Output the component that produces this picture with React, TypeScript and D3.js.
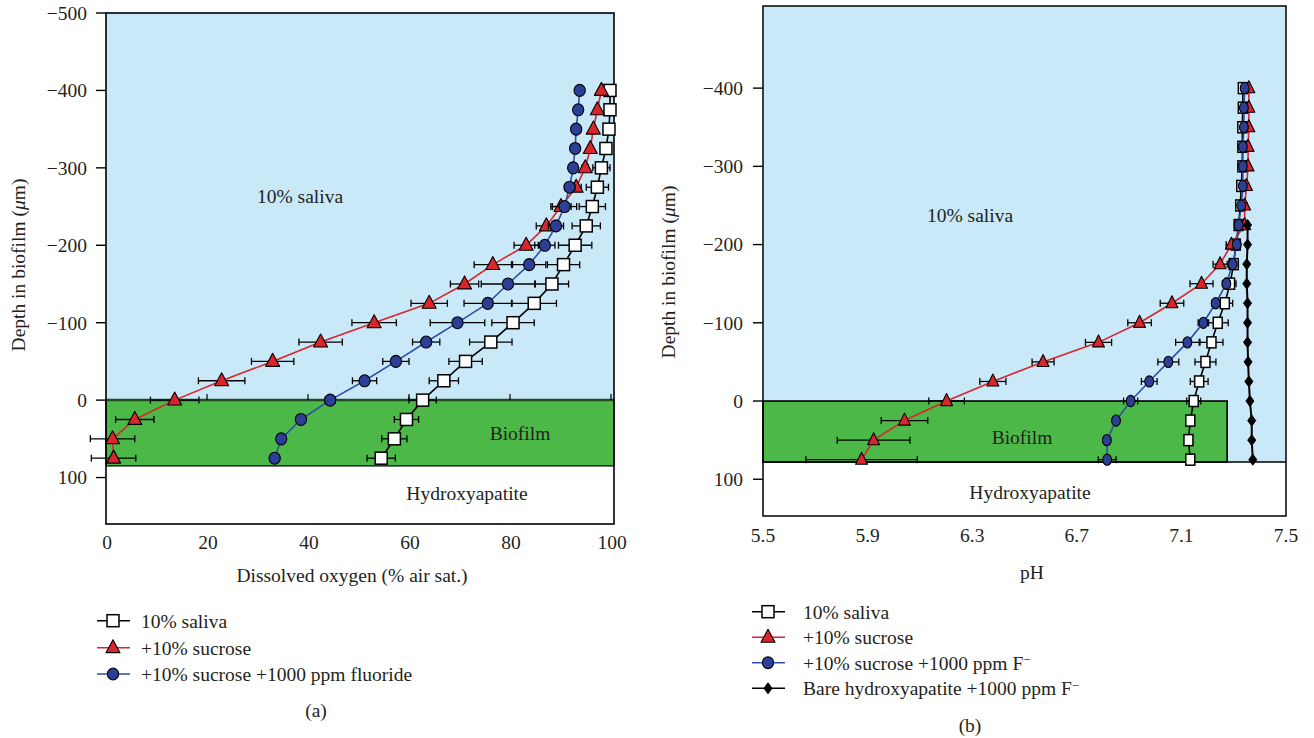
import React, { useRef, useEffect } from 'react';
import { select, scaleLinear, line } from 'd3';

// depth rows (µm), shared by every profile
const depths = [-400, -375, -350, -325, -300, -275, -250, -225, -200, -175, -150, -125, -100, -75, -50, -25, 0, 25, 50, 75];

// (a) dissolved oxygen, % air saturation
const oxySaliva = [99.8, 99.8, 99.6, 99.0, 98.1, 97.3, 96.3, 95.1, 92.9, 90.6, 88.3, 84.8, 80.6, 76.2, 71.2, 66.9, 62.7, 59.5, 57.1, 54.5];
const oxySalivaErr = [0.6, 0.6, 0.7, 0.8, 1.7, 2.2, 2.6, 2.8, 3.3, 3.2, 3.3, 4.4, 4.2, 4.2, 3.3, 2.9, 2.7, 2.4, 2.5, 2.8];
const oxySucrose = [98.1, 97.3, 96.5, 95.9, 94.9, 93.1, 90.1, 87.2, 83.2, 76.6, 71.0, 64.0, 53.1, 42.5, 33.0, 22.9, 13.6, 5.7, 1.3, 1.5];
const oxySucroseErr = [0.4, 0.4, 0.5, 0.5, 0.6, 1.0, 2.0, 2.0, 2.4, 3.7, 2.8, 3.6, 4.4, 4.3, 4.2, 4.6, 4.8, 3.8, 4.4, 4.4];
const oxyFluoride = [93.8, 93.5, 93.1, 92.9, 92.5, 91.8, 90.8, 89.1, 86.9, 83.8, 79.6, 75.6, 69.6, 63.4, 57.4, 51.2, 44.4, 38.6, 34.7, 33.4];
const oxyFluorideErr = [0.4, 0.4, 0.4, 0.4, 0.5, 1.0, 2.4, 1.5, 2.0, 3.3, 5.3, 4.7, 5.4, 2.7, 2.6, 2.4, 1.0, 0.6, 0.6, 0.6];

// (b) pH
const phSaliva = [7.335, 7.335, 7.333, 7.333, 7.333, 7.329, 7.325, 7.319, 7.308, 7.300, 7.286, 7.266, 7.239, 7.215, 7.192, 7.168, 7.147, 7.134, 7.127, 7.134];
const phSalivaErr = [0.01, 0.01, 0.01, 0.01, 0.01, 0.01, 0.012, 0.012, 0.015, 0.018, 0.023, 0.03, 0.04, 0.044, 0.04, 0.034, 0.027, 0.015, 0.015, 0];
const phSucrose = [7.358, 7.358, 7.358, 7.355, 7.355, 7.349, 7.342, 7.342, 7.291, 7.248, 7.177, 7.064, 6.940, 6.783, 6.571, 6.379, 6.202, 6.041, 5.923, 5.877];
const phSucroseErr = [0.005, 0.005, 0.005, 0.005, 0.005, 0.008, 0.01, 0.012, 0.02, 0.027, 0.044, 0.045, 0.045, 0.05, 0.042, 0.05, 0.068, 0.089, 0.139, 0.213];
const phFluoride = [7.342, 7.339, 7.339, 7.335, 7.335, 7.335, 7.329, 7.319, 7.312, 7.296, 7.272, 7.231, 7.184, 7.123, 7.050, 6.977, 6.906, 6.850, 6.815, 6.816];
const phFluorideErr = [0.008, 0.008, 0.008, 0.008, 0.008, 0.008, 0.008, 0.01, 0.01, 0.012, 0.015, 0.015, 0.02, 0.045, 0.04, 0.03, 0.027, 0.01, 0.01, 0.034];
const bareDepths = [-225, -200, -175, -150, -125, -100, -75, -50, -25, 0, 25, 50, 75];
const phBare = [7.353, 7.353, 7.350, 7.350, 7.353, 7.353, 7.353, 7.355, 7.358, 7.362, 7.369, 7.369, 7.373];

// axes ticks and labels
const oxyTicks = [0, 20, 40, 60, 80, 100];
const phTicks = [5.5, 5.9, 6.3, 6.7, 7.1, 7.5];
const depthTicksA = [-500, -400, -300, -200, -100, 0, 100];
const depthTicksB = [-400, -300, -200, -100, 0, 100];
const biofilmBottomA = 85;
const biofilmBottomB = 78;
const biofilmRightB = 7.275;
const legendA = ['10% saliva', '+10% sucrose', '+10% sucrose +1000 ppm fluoride'];
const legendB = ['10% saliva', '+10% sucrose', '+10% sucrose +1000 ppm F', 'Bare hydroxyapatite +1000 ppm F'];

const FONT = '"Liberation Serif", "DejaVu Serif", serif';
const INK = '#231f20';
const BLUE_BG = '#c9e8f8';
const GREEN = '#4cb848';
const RED = '#d9252b';
const NAVY = '#2b3f96';
const LINE_BLUE = '#2f4fa8';

const fmt = (v: number) => (v < 0 ? '\u2212' + Math.abs(v) : String(v));

function drawMarker(g: any, kind: string, x: number, y: number, big: boolean) {
  const k = big ? 1 : 0.85;
  if (kind === 'square') {
    const w = big ? 12 : 9, h = big ? 12 : 11;
    g.append('rect').attr('x', x - w / 2).attr('y', y - h / 2).attr('width', w).attr('height', h)
      .attr('fill', '#fff').attr('stroke', '#000').attr('stroke-width', 1.5);
  } else if (kind === 'triangle') {
    const w = 14 * k, h = big ? 13 : 12;
    g.append('path')
      .attr('d', `M${x},${y - h * 0.62}L${x + w / 2},${y + h * 0.38}L${x - w / 2},${y + h * 0.38}Z`)
      .attr('fill', RED).attr('stroke', '#000').attr('stroke-width', 1.1).attr('stroke-linejoin', 'round');
  } else if (kind === 'circle') {
    g.append('ellipse').attr('cx', x).attr('cy', y).attr('rx', big ? 5.6 : 4.4).attr('ry', big ? 6 : 5.6)
      .attr('fill', NAVY).attr('stroke', '#000').attr('stroke-width', 1.1);
  } else {
    g.append('path')
      .attr('d', `M${x},${y - 5.5}L${x + 4},${y}L${x},${y + 5.5}L${x - 4},${y}Z`)
      .attr('fill', '#000').attr('stroke', '#000').attr('stroke-width', 1);
  }
}

function drawSeries(g: any, xs: any, ys: any, dep: number[], vals: number[], errs: number[] | null, kind: string, color: string, big: boolean) {
  const pts = dep.map((d, i) => ({ d, v: vals[i], e: errs ? errs[i] : 0 }));
  const gen = line<any>().x(p => xs(p.v)).y(p => ys(p.d));
  g.append('path').datum(pts).attr('d', gen).attr('fill', 'none')
    .attr('stroke', color).attr('stroke-width', kind === 'diamond' ? 2 : 1.6);
  pts.forEach(p => {
    if (!p.e) return;
    const y = ys(p.d), x0 = xs(p.v - p.e), x1 = xs(p.v + p.e);
    g.append('line').attr('x1', x0).attr('x2', x1).attr('y1', y).attr('y2', y).attr('stroke', '#000').attr('stroke-width', 1.3);
    [x0, x1].forEach(x => g.append('line').attr('x1', x).attr('x2', x).attr('y1', y - 3.5).attr('y2', y + 3.5)
      .attr('stroke', '#000').attr('stroke-width', 1.3));
  });
  pts.forEach(p => drawMarker(g, kind, xs(p.v), ys(p.d), big));
}

function text(g: any, x: number, y: number, s: string, anchor = 'middle') {
  return g.append('text').attr('x', x).attr('y', y).attr('dy', '0.35em').attr('text-anchor', anchor)
    .style('font-family', FONT).style('font-size', '19.5px').attr('fill', INK).text(s);
}

function App() {
  const ref = useRef<SVGSVGElement>(null);

  useEffect(() => {
    const svg = select(ref.current);
    svg.selectAll('*').remove();

    // ---------- panel (a) ----------
    const xa = scaleLinear().domain([0, 100]).range([106, 611]);
    const ya = scaleLinear().domain([-500, 160]).range([13, 524]);
    const a = svg.append('g');
    const aRight = 614;
    a.append('rect').attr('x', xa(0)).attr('y', ya(-500)).attr('width', aRight - xa(0)).attr('height', ya(0) - ya(-500)).attr('fill', BLUE_BG);
    a.append('rect').attr('x', xa(0)).attr('y', ya(0)).attr('width', aRight - xa(0)).attr('height', ya(biofilmBottomA) - ya(0))
      .attr('fill', GREEN).attr('stroke', '#000').attr('stroke-width', 1.2);
    a.append('line').attr('x1', xa(0)).attr('x2', aRight).attr('y1', ya(0)).attr('y2', ya(0)).attr('stroke', '#1f4d1c').attr('stroke-width', 2.5);
    a.append('rect').attr('x', xa(0)).attr('y', ya(-500)).attr('width', aRight - xa(0)).attr('height', ya(160) - ya(-500))
      .attr('fill', 'none').attr('stroke', '#000').attr('stroke-width', 1.6);
    depthTicksA.forEach(t => {
      a.append('line').attr('x1', xa(0) - 10).attr('x2', xa(0)).attr('y1', ya(t)).attr('y2', ya(t)).attr('stroke', '#000').attr('stroke-width', 1.4);
      text(a, xa(0) - 19, ya(t), fmt(t), 'end');
    });
    oxyTicks.forEach(t => {
      if (t > 0) a.append('line').attr('x1', xa(t)).attr('x2', xa(t)).attr('y1', ya(0)).attr('y2', ya(0) - 6).attr('stroke', '#000').attr('stroke-width', 1.2);
      text(a, xa(t) + 1, 542, String(t));
    });
    text(a, 300, 196, '10% saliva');
    text(a, 520, 433, 'Biofilm');
    text(a, 467, 493, 'Hydroxyapatite');
    text(a, 352, 575, 'Dissolved oxygen (% air sat.)');
    const la = text(a, 0, 0, '').attr('transform', 'translate(18,265) rotate(-90)');
    la.append('tspan').text('Depth in biofilm (');
    la.append('tspan').attr('font-style', 'italic').text('\u03bc');
    la.append('tspan').text('m)');

    drawSeries(a, xa, ya, depths, oxySaliva, oxySalivaErr, 'square', '#000', true);
    drawSeries(a, xa, ya, depths, oxySucrose, oxySucroseErr, 'triangle', RED, true);
    drawSeries(a, xa, ya, depths, oxyFluoride, oxyFluorideErr, 'circle', LINE_BLUE, true);

    const legA = [['square', '#000'], ['triangle', RED], ['circle', LINE_BLUE]];
    legA.forEach(([kind, color], i) => {
      const y = [620.7, 647.7, 674][i];
      a.append('line').attr('x1', 97).attr('x2', 130).attr('y1', y).attr('y2', y).attr('stroke', color).attr('stroke-width', 1.4);
      drawMarker(a, kind, 113, y, true);
      text(a, 141, y, legendA[i], 'start');
    });
    text(a, 316, 710, '(a)');

    // ---------- panel (b) ----------
    const xb = scaleLinear().domain([5.5, 7.5]).range([763, 1286]);
    const yb = scaleLinear().domain([-505, 147]).range([6, 516]);
    const b = svg.append('g');
    b.append('rect').attr('x', xb(5.5)).attr('y', yb(-505)).attr('width', xb(7.5) - xb(5.5)).attr('height', yb(biofilmBottomB) - yb(-505)).attr('fill', BLUE_BG);
    b.append('rect').attr('x', xb(5.5)).attr('y', yb(0)).attr('width', xb(biofilmRightB) - xb(5.5)).attr('height', yb(biofilmBottomB) - yb(0))
      .attr('fill', GREEN).attr('stroke', '#000').attr('stroke-width', 1.6);
    b.append('line').attr('x1', xb(5.5)).attr('x2', xb(7.5)).attr('y1', yb(biofilmBottomB)).attr('y2', yb(biofilmBottomB)).attr('stroke', '#000').attr('stroke-width', 1.4);
    b.append('rect').attr('x', xb(5.5)).attr('y', yb(-505)).attr('width', xb(7.5) - xb(5.5)).attr('height', yb(147) - yb(-505))
      .attr('fill', 'none').attr('stroke', '#000').attr('stroke-width', 1.5);
    depthTicksB.forEach(t => {
      b.append('line').attr('x1', xb(5.5) - 10).attr('x2', xb(5.5)).attr('y1', yb(t)).attr('y2', yb(t)).attr('stroke', '#000').attr('stroke-width', 1.4);
      text(b, xb(5.5) - 20, yb(t), fmt(t), 'end');
    });
    phTicks.forEach(t => text(b, xb(t), 535, t.toFixed(1)));
    text(b, 970, 215, '10% saliva');
    text(b, 1022, 437, 'Biofilm');
    text(b, 1030, 492, 'Hydroxyapatite');
    text(b, 1032, 572, 'pH');
    const lb = text(b, 0, 0, '').attr('transform', 'translate(668,272) rotate(-90)');
    lb.append('tspan').text('Depth in biofilm (');
    lb.append('tspan').attr('font-style', 'italic').text('\u03bc');
    lb.append('tspan').text('m)');

    drawSeries(b, xb, yb, depths, phSaliva, phSalivaErr, 'square', '#000', false);
    drawSeries(b, xb, yb, depths, phSucrose, phSucroseErr, 'triangle', RED, false);
    drawSeries(b, xb, yb, depths, phFluoride, phFluorideErr, 'circle', LINE_BLUE, false);
    drawSeries(b, xb, yb, bareDepths, phBare, null, 'diamond', '#000', false);

    const legB = [['square', '#000'], ['triangle', RED], ['circle', LINE_BLUE], ['diamond', '#000']];
    legB.forEach(([kind, color], i) => {
      const y = [611.7, 637.3, 662.7, 688.3][i];
      b.append('line').attr('x1', 752).attr('x2', 785).attr('y1', y).attr('y2', y).attr('stroke', color).attr('stroke-width', 1.4);
      drawMarker(b, kind, 768, y, true);
      const t = text(b, 803, y, legendB[i], 'start');
      if (i >= 2) t.append('tspan').attr('dy', '-0.4em').style('font-size', '13px').text('\u2212');
    });
    text(b, 970, 725, '(b)');
  }, []);

  return (
    <div style={{ position: 'absolute', left: 0, top: 0 }}>
      <svg ref={ref} width={1314} height={738} style={{ display: 'block', background: '#fff' }} />
    </div>
  );
}

export default App;
